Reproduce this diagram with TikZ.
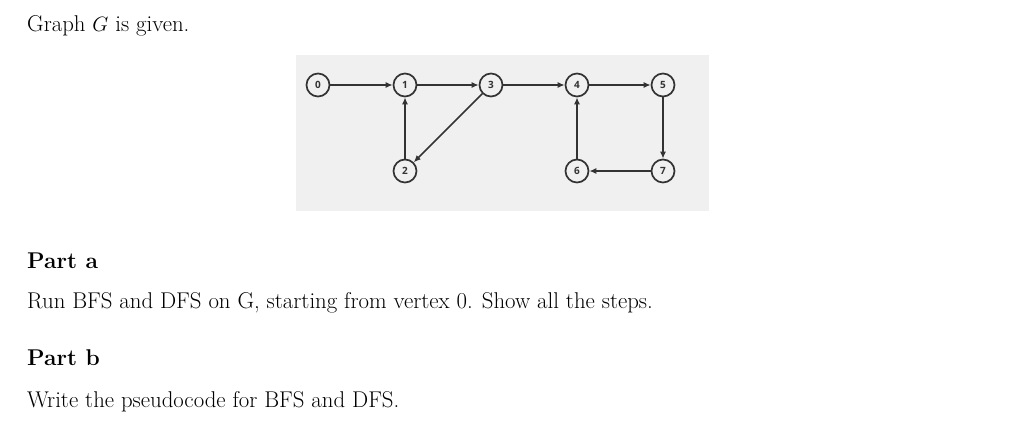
\documentclass[tikz,border=0pt]{standalone}
\usepackage{fontspec}
\newfontfamily\gfont{Open Sans}
\usetikzlibrary{arrows.meta}
\begin{document}
\begin{tikzpicture}[x=1pt,y=-1pt,
  vtx/.style={circle,draw=black!80,line width=1.7pt,minimum size=23pt,inner sep=0pt,font=\gfont\bfseries\fontsize{10}{11}\selectfont,text=black!80},
  arc/.style={draw=black!80,line width=1.7pt,-{Latex[length=7pt,width=6pt]}},
  txt/.style={anchor=base west,inner sep=0pt,font=\fontsize{22.8}{26}\selectfont}]
\useasboundingbox (0,0) rectangle (1024,434);
\fill[black!6] (296,55) rectangle (709,211);
\node[vtx] (v0) at (318,85) {0};
\node[vtx] (v1) at (405,85) {1};
\node[vtx] (v3) at (491,85) {3};
\node[vtx] (v4) at (577,85) {4};
\node[vtx] (v5) at (663,85) {5};
\node[vtx] (v2) at (405,171) {2};
\node[vtx] (v6) at (577,171) {6};
\node[vtx] (v7) at (663,171) {7};
\draw[arc] (v0) -- (v1);
\draw[arc] (v1) -- (v3);
\draw[arc] (v3) -- (v4);
\draw[arc] (v4) -- (v5);
\draw[arc] (v2) -- (v1);
\draw[arc] (v3) -- (v2);
\draw[arc] (v5) -- (v7);
\draw[arc] (v7) -- (v6);
\draw[arc] (v6) -- (v4);
\node[txt] (t1) at (27,31) {Graph $G$ is given.};
\node[txt] (t2) at (27,268) {\textbf{Part a}};
\node[txt] (t3) at (27,308) {Run BFS and DFS on G, starting from vertex 0. Show all the steps.};
\node[txt] (t4) at (27,365) {\textbf{Part b}};
\node[txt] (t5) at (27,407) {Write the pseudocode for BFS and DFS.};
\end{tikzpicture}
\end{document}
